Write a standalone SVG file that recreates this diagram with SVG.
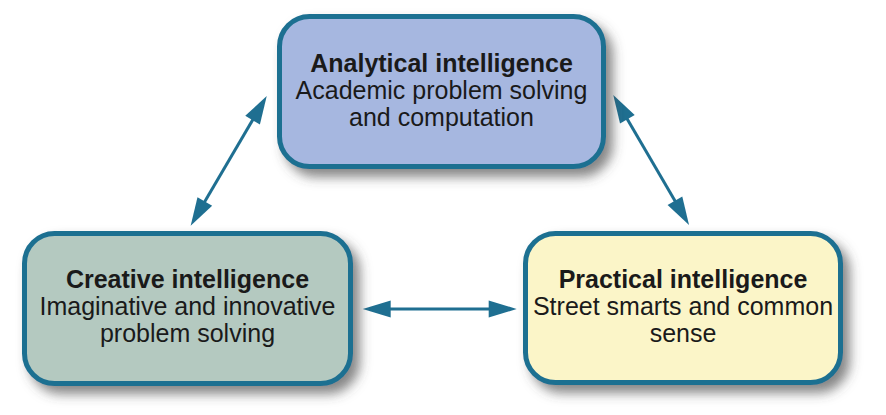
<svg xmlns="http://www.w3.org/2000/svg" width="886" height="415" viewBox="0 0 886 415">
<style>
.box{stroke:#1f6f91;stroke-width:5;filter:url(#sh)}
.t{font-family:"Liberation Sans",Arial,sans-serif;font-size:25px;fill:#1a1a1a;text-anchor:middle}
.b{font-weight:bold}
.conn{stroke:#1f6f91;stroke-width:3;fill:none;marker-start:url(#ah);marker-end:url(#ah)}
</style>
<defs>
<filter id="sh" x="-10%" y="-10%" width="130%" height="140%">
<feDropShadow dx="7" dy="8" stdDeviation="6" flood-color="#444" flood-opacity="0.65"/>
</filter>
<marker id="ah" markerUnits="userSpaceOnUse" viewBox="-30 -10 32 20" markerWidth="32" markerHeight="20" refX="-8" refY="0" orient="auto-start-reverse">
<path d="M-28,-8.5 L0,0 L-28,8.5 Z" fill="#1f6f91"/>
</marker>
</defs>
<rect width="886" height="415" fill="#ffffff"/>
<g id="connectors">
<line class="conn" x1="194.7" y1="218.8" x2="262.7" y2="102.9"/>
<line class="conn" x1="617.3" y1="101.9" x2="685" y2="218.1"/>
<line class="conn" x1="370.7" y1="309" x2="508.7" y2="309"/>
</g>
<g id="analytical">
<rect class="box" x="279.5" y="16.5" width="324" height="150" rx="30" fill="#a6b7e0"/>
<text class="t b" x="441.5" y="72">Analytical intelligence</text>
<text class="t" x="441.5" y="99">Academic problem solving</text>
<text class="t" x="441.5" y="126">and computation</text>
</g>
<g id="creative">
<rect class="box" x="24.5" y="233.5" width="326" height="150" rx="30" fill="#b4c9c0"/>
<text class="t b" x="187.5" y="288">Creative intelligence</text>
<text class="t" x="187.5" y="315">Imaginative and innovative</text>
<text class="t" x="187.5" y="342">problem solving</text>
</g>
<g id="practical">
<rect class="box" x="525.5" y="233.5" width="315" height="149" rx="30" fill="#fbf5c8"/>
<text class="t b" x="683" y="288">Practical intelligence</text>
<text class="t" x="683" y="315">Street smarts and common</text>
<text class="t" x="683" y="342">sense</text>
</g>
</svg>
